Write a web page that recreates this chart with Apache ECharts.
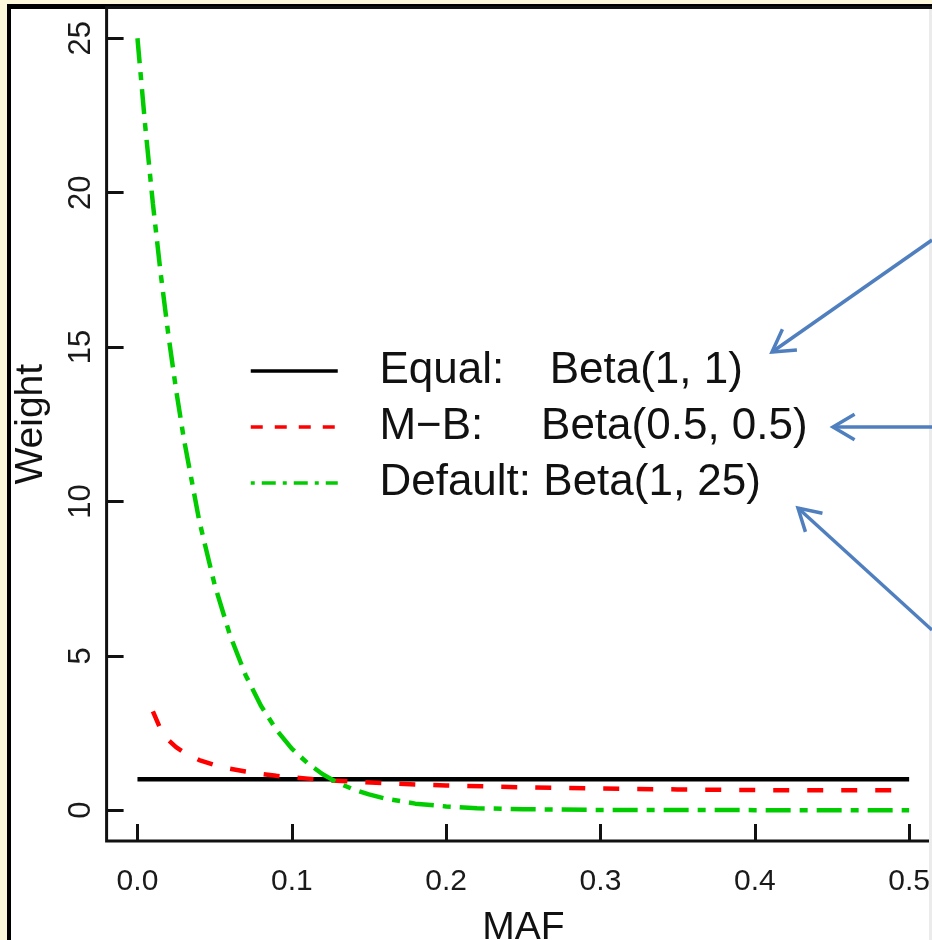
<!DOCTYPE html>
<html><head><meta charset="utf-8">
<script src="https://cdn.jsdelivr.net/npm/echarts@6/dist/echarts.min.js"></script>
<style>html,body{margin:0;padding:0;background:#fdf8dc;} #c{width:932px;height:940px;}</style>
</head><body><div id="c"></div>
<script>
// ---- data ----
const xTicks = [0, 0.1, 0.2, 0.3, 0.4, 0.5];
const yTicks = [0, 5, 10, 15, 20, 25];
const seriesNames = ['Equal:   \u2009Beta(1, 1)', 'M\u2212B:    \u2009Beta(0.5, 0.5)', 'Default: Beta(1, 25)'];

const equalMAF = [0, 0.5];
const equalW   = [1, 1];

const mbMAF = [0.01,0.015,0.02,0.025,0.03,0.04,0.05,0.06,0.07,0.08,0.09,0.10,0.12,0.14,0.16,0.18,0.20,0.25,0.30,0.35,0.40,0.45,0.50];
const mbW   = [3.20,2.62,2.27,2.04,1.87,1.62,1.46,1.34,1.25,1.17,1.11,1.06,0.98,0.92,0.87,0.83,0.80,0.74,0.70,0.67,0.65,0.64,0.64];

const defMAF = [0,0.005,0.01,0.015,0.02,0.025,0.03,0.04,0.05,0.06,0.07,0.08,0.09,0.10,0.11,0.12,0.13,0.14,0.15,0.16,0.18,0.20,0.22,0.25,0.30,0.35,0.40,0.50];
const defW   = [25,22.17,19.64,17.40,15.40,13.62,12.04,9.38,7.30,5.66,4.38,3.38,2.60,1.99,1.53,1.16,0.88,0.67,0.51,0.38,0.21,0.12,0.06,0.03,0.005,0.001,0,0];

// ---- helpers ----
const pairs = (xs, ys) => xs.map((x, i) => [x, ys[i]]);
const FONT = '"Liberation Sans", Arial, Helvetica, sans-serif';
const ARROW = '#4f7fbf';

function arrowEls(tail, tip, L, ang) {
  const dx = tip[0] - tail[0], dy = tip[1] - tail[1], len = Math.hypot(dx, dy);
  const ux = dx / len, uy = dy / len, c = Math.cos(ang), s = Math.sin(ang);
  const w1 = [tip[0] - L * (ux * c - uy * s), tip[1] - L * (ux * s + uy * c)];
  const w2 = [tip[0] - L * (ux * c + uy * s), tip[1] - L * (-ux * s + uy * c)];
  return [
    {type: 'polyline', z: 10, shape: {points: [tail, tip]}, style: {stroke: ARROW, lineWidth: 3.5, fill: null}},
    {type: 'polyline', z: 10, shape: {points: [w1, tip, w2]}, style: {stroke: ARROW, lineWidth: 3.5, fill: null, lineJoin: 'miter'}}
  ];
}

const chart = echarts.init(document.getElementById('c'), null, {renderer: 'canvas'});
const hiddenSymbol = {color: 'rgba(0,0,0,0)', opacity: 0, borderWidth: 0};

const option = {
  backgroundColor: '#fdf8dc',
  animation: false,
  textStyle: {fontFamily: FONT},
  grid: {left: 106.6, top: 7.4, width: 833.4, height: 833.6, show: true, outerBoundsMode: 'none', containLabel: false,
         backgroundColor: '#ffffff', borderColor: '#111', borderWidth: 3},
  xAxis: {
    type: 'value', min: -0.02, max: 0.52,
    axisLine: {show: false, onZero: false}, splitLine: {show: false},
    axisTick: {show: true, inside: true, length: 17, customValues: xTicks, lineStyle: {color: '#111', width: 3}},
    axisLabel: {customValues: xTicks, formatter: v => v.toFixed(1), fontSize: 30, color: '#1a1a1a', margin: 26, fontFamily: FONT},
    name: 'MAF', nameLocation: 'middle', nameGap: 68,
    nameTextStyle: {fontSize: 39, color: '#111', fontFamily: FONT}
  },
  yAxis: {
    type: 'value', min: -1, max: 26,
    axisLine: {show: false, onZero: false}, splitLine: {show: false},
    axisTick: {show: true, inside: true, length: 17, customValues: yTicks, lineStyle: {color: '#111', width: 3}},
    axisLabel: {customValues: yTicks, rotate: 90, fontSize: 31, color: '#1a1a1a', margin: 10, fontFamily: FONT},
    name: 'Weight', nameLocation: 'middle', nameGap: 56, nameRotate: 90,
    nameTextStyle: {fontSize: 39, color: '#111', fontFamily: FONT}
  },
  legend: {
    left: 249, top: 349, orient: 'vertical', padding: 0, itemWidth: 87, itemHeight: 14, itemGap: 12,
    selectedMode: false,
    formatter: n => '   ' + n,
    itemStyle: hiddenSymbol,
    textStyle: {fontSize: 44, lineHeight: 44, color: '#111', fontFamily: FONT},
    data: [
      {name: seriesNames[0], itemStyle: hiddenSymbol, lineStyle: {width: 3.5}},
      {name: seriesNames[1], itemStyle: hiddenSymbol, lineStyle: {width: 3.5, type: [12, 12]}},
      {name: seriesNames[2], itemStyle: hiddenSymbol, lineStyle: {width: 3.5, type: [4, 7, 14, 7]}}
    ]
  },
  series: [
    {name: seriesNames[0], type: 'line', data: pairs(equalMAF, equalW), symbol: 'none', silent: true,
     lineStyle: {color: '#000', width: 4.5}, itemStyle: {color: '#000'}},
    {name: seriesNames[1], type: 'line', data: pairs(mbMAF, mbW), symbol: 'none', silent: true,
     lineStyle: {color: '#ff0000', width: 4.5, type: [16, 18]}, itemStyle: {color: '#ff0000'}},
    {name: seriesNames[2], type: 'line', data: pairs(defMAF, defW), symbol: 'none', silent: true,
     lineStyle: {color: '#00cc00', width: 4.5, type: [25, 9, 8, 9]}, itemStyle: {color: '#00cc00'}}
  ],
  graphic: [
    {type: 'rect', z: -5, shape: {x: 7, y: 4, width: 930, height: 940}, style: {fill: '#000'}},
    {type: 'rect', z: -4, shape: {x: 11, y: 9, width: 918, height: 935}, style: {fill: '#ffffff'}},
    {type: 'rect', z: 1, shape: {x: 929, y: 9, width: 3, height: 935}, style: {fill: '#ebebeb'}},
    ...arrowEls([932, 240], [772, 352], 25, 0.53),
    ...arrowEls([932, 427], [833, 427], 25, 0.53),
    ...arrowEls([932, 630], [798, 508], 25, 0.53)
  ]
};
chart.setOption(option);
</script>
</body></html>
